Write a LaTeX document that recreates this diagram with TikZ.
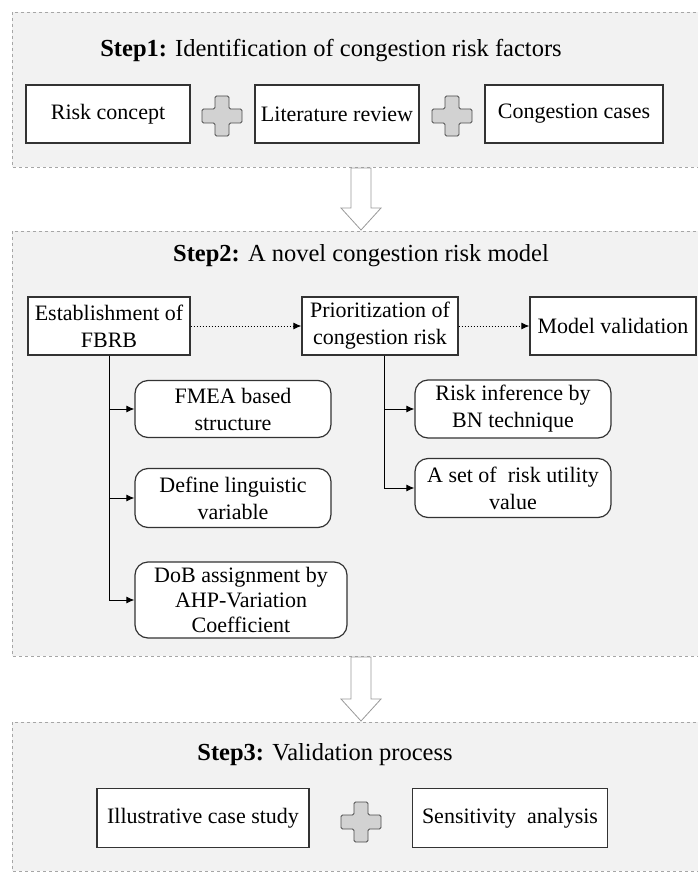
\documentclass[tikz,border=0pt]{standalone}
\usepackage{fontspec}
\setmainfont{Liberation Serif}
\usetikzlibrary{arrows.meta,calc}

\begin{document}
\begin{tikzpicture}[x=1pt,y=-1pt,>={Latex[length=8pt,width=7pt]},
        font=\fontsize{22}{27}\selectfont,
        panel/.style={draw=gray!70,dashed,fill=gray!10,line width=0.8pt},
        title/.style={font=\fontsize{24.5}{29}\selectfont},
        box/.style={draw=black!80,fill=white,line width=1.2pt,align=center,
                    inner sep=1pt,minimum height=58pt},
        rbox/.style={box,rounded corners=13pt},
        hollow/.style={draw=gray!80,fill=white,line width=0.8pt},
        plussign/.pic={\draw[fill=gray!35,draw=gray!60!black,line width=0.8pt,
                        rounded corners=1.5pt]
                    (-7,-20) -- (7,-20) -- (7,-7) -- (20,-7) -- (20,7) -- (7,7)
                    -- (7,20) -- (-7,20) -- (-7,7) -- (-20,7) -- (-20,-7)
                    -- (-7,-7) -- cycle;}]

  \useasboundingbox (0,0) rectangle (697,872);

  % panels
  \draw[panel] (12,12) rectangle (700,167);
  \draw[panel] (12,231) rectangle (700,656);
  \draw[panel] (12,722) rectangle (700,871);

  % hollow arrows between the steps
  \draw[hollow] (351,168) -- (371,168) -- (371,208) -- (381,208) -- (361,230)
        -- (341,208) -- (351,208) -- cycle;
  \draw[hollow] (351,657) -- (371,657) -- (371,699) -- (381,699) -- (361,721)
        -- (341,699) -- (351,699) -- cycle;

  % step 1
  \node[title] (t1) at (331,51) {\textbf{Step1:} Identification of congestion risk factors};
  \node[box,minimum width=164pt] (concept) at (108,114) {Risk concept};
  \node[box,minimum width=164pt] (review) at (337,114) {Literature review};
  \node[box,minimum width=178pt] (cases) at (574,114) {Congestion cases};
  \pic at (222,116) {plussign};
  \pic at (452,116) {plussign};

  % step 2
  \node[title] (t2) at (361,256) {\textbf{Step2:} A novel congestion risk model};
  \node[box,minimum width=162pt] (fbrb) at (109,326) {Establishment of\\FBRB};
  \node[box,minimum width=156pt] (prio) at (380,326) {Prioritization of\\congestion risk};
  \node[box,minimum width=166pt] (valid) at (613,326) {Model validation};

  \node[rbox,minimum width=196pt,minimum height=57pt] (fmea) at (233,409)
        {FMEA based\\structure};
  \node[rbox,minimum width=196pt,minimum height=59pt] (ling) at (233,498)
        {Define linguistic\\variable};
  \node[rbox,minimum width=212pt,minimum height=76pt,
        font=\fontsize{22}{25}\selectfont] (dob) at (241,600)
        {DoB assignment by\\AHP-Variation\\Coefficient};
  \node[rbox,minimum width=196pt] (bn) at (513,409) {Risk inference by\\BN technique};
  \node[rbox,minimum width=196pt,minimum height=59pt] (util) at (513,488)
        {A set of\ \ risk utility\\value};

  \draw[->,dotted,line width=1pt] (fbrb) -- (prio);
  \draw[->,dotted,line width=1pt] (prio) -- (valid);

  \draw[->,line width=1pt] (fbrb.south) |- (fmea.west);
  \draw[->,line width=1pt] (fbrb.south) |- (ling.west);
  \draw[->,line width=1pt] (fbrb.south) |- (dob.west);
  \draw[->,line width=1pt] ([xshift=4pt]prio.south) |- (bn.west);
  \draw[->,line width=1pt] ([xshift=4pt]prio.south) |- (util.west);

  % step 3
  \node[title] (t3) at (325,755) {\textbf{Step3:} Validation process};
  \node[box,minimum width=212pt,minimum height=59pt] (study) at (203,818)
        {Illustrative case study};
  \node[box,minimum width=195pt,minimum height=59pt] (sens) at (510,818)
        {Sensitivity\ \ analysis};
  \pic at (361,822) {plussign};

\end{tikzpicture}
\end{document}
